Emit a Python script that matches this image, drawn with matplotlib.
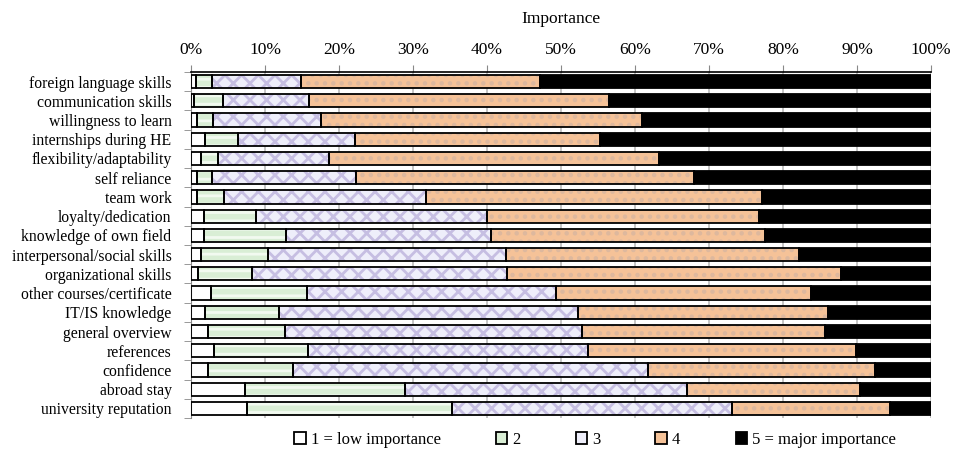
import matplotlib
matplotlib.use("Agg")
import matplotlib.pyplot as plt
import numpy as np
from matplotlib.patches import Patch

plt.rcParams['font.family'] = ['Liberation Serif', 'DejaVu Serif']
plt.rcParams['hatch.linewidth'] = 2.0

categories = [
    "foreign language skills", "communication skills", "willingness to learn",
    "internships during HE", "flexibility/adaptability", "self reliance",
    "team work", "loyalty/dedication", "knowledge of own field",
    "interpersonal/social skills", "organizational skills",
    "other courses/certificate", "IT/IS knowledge", "general overview",
    "references", "confidence", "abroad stay", "university reputation",
]

imp1 = [0.7, 0.4, 0.8, 1.9, 1.3, 0.8, 0.8, 1.8, 1.8, 1.4, 1.0, 2.7, 1.9, 2.3, 3.1, 2.3, 7.3, 7.6]
imp2 = [2.1, 3.9, 2.2, 4.4, 2.3, 2.0, 3.7, 7.0, 11.0, 9.0, 7.2, 13.0, 10.0, 10.4, 12.7, 11.5, 21.6, 27.7]
imp3 = [12.0, 11.6, 14.6, 15.9, 15.1, 19.5, 27.3, 31.2, 27.7, 32.1, 34.5, 33.6, 40.4, 40.1, 37.9, 48.0, 38.1, 37.8]
imp4 = [32.4, 40.6, 43.4, 33.1, 44.5, 45.7, 45.3, 36.7, 37.1, 39.7, 45.2, 34.5, 33.8, 32.9, 36.1, 30.6, 23.4, 21.4]
imp5 = [52.8, 43.5, 39.0, 44.7, 36.8, 32.0, 22.9, 23.3, 22.4, 17.8, 12.1, 16.2, 13.9, 14.3, 10.2, 7.6, 9.6, 5.5]

series_labels = ["1 = low importance", "2", "3", "4", "5 = major importance"]
x_ticks = [0, 10, 20, 30, 40, 50, 60, 70, 80, 90, 100]

faces = ["#FFFFFF", "#D9EED5", "#EEEEFA", "#F5C298", "#000000"]
hatch_cols = ["#FFFFFF", "#F2FAF0", "#C6BEE2", "#DDB89E", "#000000"]
hatches = [None, "--", "xx", "..", None]

fig = plt.figure(figsize=(9.62, 4.53), dpi=100)
ax = fig.add_axes([191/962, 1-418/453, (931-191)/962, (418-72)/453])

data = np.array([imp1, imp2, imp3, imp4, imp5])
n = len(categories)
y = np.arange(n)
left = np.zeros(n)
h = 0.69
for k in range(5):
    vals = data[k]
    if hatches[k]:
        ax.barh(y, vals, left=left, height=h, color=faces[k], edgecolor=hatch_cols[k],
                hatch=hatches[k], linewidth=0, zorder=2)
    else:
        ax.barh(y, vals, left=left, height=h, color=faces[k], linewidth=0, zorder=2)
    ax.barh(y, vals, left=left, height=h, fill=False, edgecolor="black", linewidth=1.3, zorder=3)
    left = left + vals

ax.set_xlim(0, 100)
ax.set_ylim(n - 0.5, -0.5)
ax.xaxis.tick_top()
ax.xaxis.set_label_position('top')
ax.set_xticks(x_ticks)
ax.set_xticklabels([f"{t}%" for t in x_ticks], fontsize=12.5)
ax.set_xlabel("Importance", fontsize=12.5, labelpad=14)
ax.tick_params(axis='x', length=5, color="#888888", pad=5)
ax.grid(axis='x', color="#BBBBBB", linewidth=1.2, zorder=0)
ax.set_axisbelow(True)

ax.set_yticks(y)
ax.set_yticklabels(categories, fontsize=11.3)
ax.tick_params(axis='y', length=0, pad=14)
ax.set_yticks(np.arange(-0.5, n, 1), minor=True)
ax.tick_params(axis='y', which='minor', length=5, color="#888888")

ax.spines['right'].set_visible(False)
ax.spines['bottom'].set_visible(False)
ax.spines['top'].set_color('black')
ax.spines['top'].set_linewidth(1.2)
ax.spines['left'].set_color('#888888')

handles = []
for k in range(5):
    handles.append(Patch(facecolor=faces[k], edgecolor="black", linewidth=1.3))
leg = fig.legend(handles, series_labels, loc='center', bbox_to_anchor=(595/962, 1-440/453),
                 ncol=5, frameon=False, fontsize=12, handlelength=0.7, handleheight=0.7,
                 handletextpad=0.3, columnspacing=3.3)

fig.savefig("out.png", dpi=100)
